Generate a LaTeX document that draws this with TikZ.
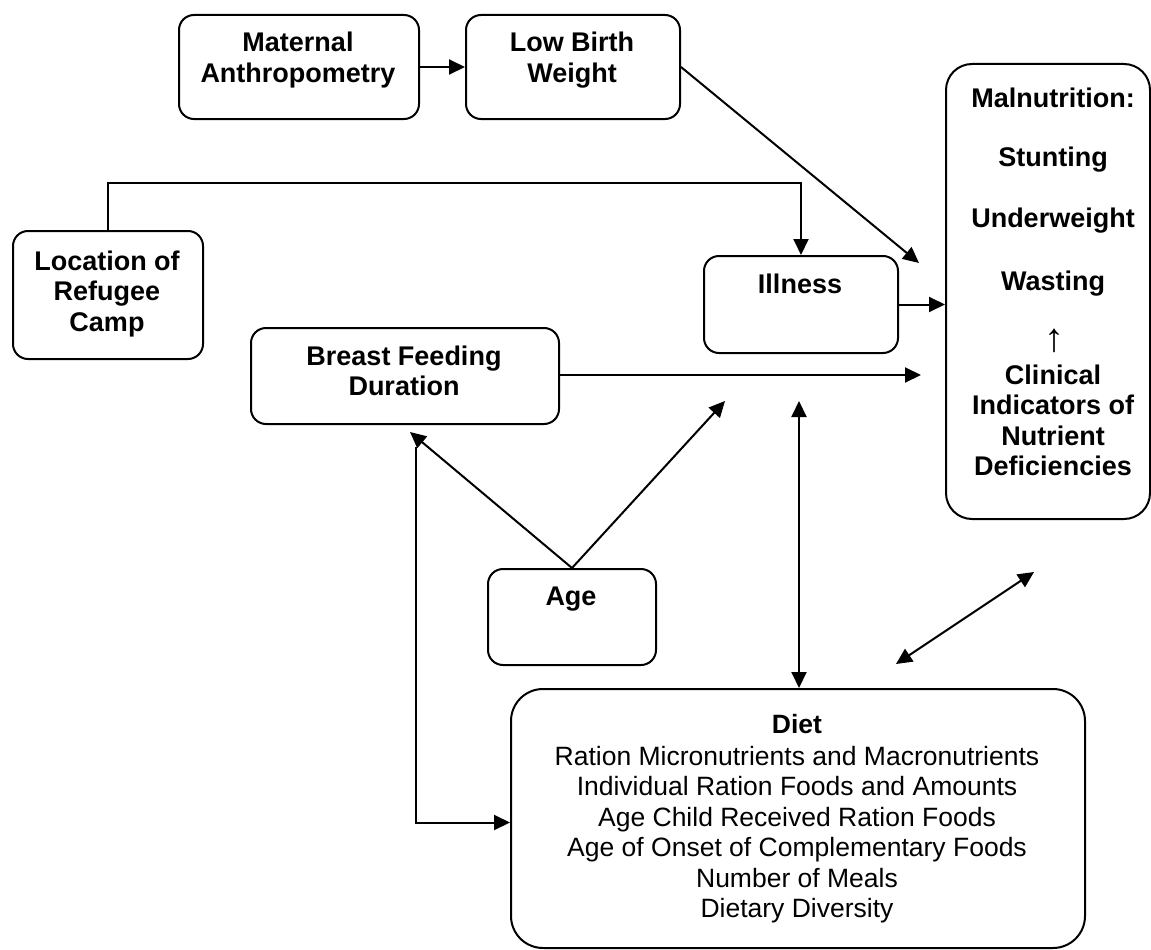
\documentclass[tikz,border=0pt]{standalone}
\usepackage{fontspec}
\setmainfont{Liberation Sans}
\usetikzlibrary{arrows.meta}
\begin{document}
\begin{tikzpicture}[x=1pt,y=-1pt,
  box/.style={draw, line width=2pt, rounded corners=15pt, inner sep=0pt, anchor=north west},
  lbl/.style={font=\bfseries\fontsize{27}{30}\selectfont, inner sep=0pt, anchor=base},
  reg/.style={font=\fontsize{26.5}{31}\selectfont, inner sep=0pt, anchor=base},
  tipa/.tip={Triangle[length=16pt,width=15pt]},
  con/.style={line width=2pt, -tipa},
  dcon/.style={line width=2pt, tipa-tipa}]
\useasboundingbox (0,0) rectangle (1151,950);

% boxes
\node[box, minimum width=240pt, minimum height=104pt] (mat) at (178,14) {};
\node[box, minimum width=214pt, minimum height=104pt] (lbw) at (465,14) {};
\node[box, minimum width=190pt, minimum height=128pt] (loc) at (12,230) {};
\node[box, minimum width=308pt, minimum height=96pt] (bf) at (250,327) {};
\node[box, minimum width=194pt, minimum height=97pt] (ill) at (703,255) {};
\node[box, minimum width=168pt, minimum height=96pt] (age) at (487,568) {};
\node[box, rounded corners=32pt, minimum width=574pt, minimum height=259pt] (diet) at (510,688) {};
\node[box, rounded corners=26pt, minimum width=204pt, minimum height=455pt] (mal) at (945,63) {};

% texts
\node[lbl] (matA) at (298,52) {Maternal};
\node[lbl] (matB) at (298,82) {Anthropometry};
\node[lbl] (lbwA) at (572,52) {Low Birth};
\node[lbl] (lbwB) at (572,82) {Weight};
\node[lbl] (locA) at (107,270) {Location of};
\node[lbl] (locB) at (107,300) {Refugee};
\node[lbl] (locC) at (107,331) {Camp};
\node[lbl] (bfA) at (404,365) {Breast Feeding};
\node[lbl] (bfB) at (404,395) {Duration};
\node[lbl] (illA) at (800,293) {Illness};
\node[lbl] (ageA) at (571,605) {Age};

\node[lbl] (malA) at (1053,107) {Malnutrition:};
\node[lbl] (malB) at (1053,166) {Stunting};
\node[lbl] (malC) at (1053,227) {Underweight};
\node[lbl] (malD) at (1053,290) {Wasting};
\node[font=\fontsize{40}{40}\selectfont, inner sep=0pt, anchor=center] (malE) at (1054,341) {↑};
\node[lbl] (malF) at (1053,384) {Clinical};
\node[lbl] (malG) at (1053,414) {Indicators of};
\node[lbl] (malH) at (1053,445) {Nutrient};
\node[lbl] (malI) at (1053,475) {Deficiencies};

\node[lbl, font=\bfseries\fontsize{26.5}{31}\selectfont] (dietA) at (797,733) {Diet};
\node[reg] (dietB) at (797,765) {Ration Micronutrients and Macronutrients};
\node[reg] (dietC) at (797,795) {Individual Ration Foods and Amounts};
\node[reg] (dietD) at (797,826) {Age Child Received Ration Foods};
\node[reg] (dietE) at (797,856) {Age of Onset of Complementary Foods};
\node[reg] (dietF) at (797,887) {Number of Meals};
\node[reg] (dietG) at (797,917) {Dietary Diversity};

% free ends
\coordinate (lbwEnd) at (919,263);
\coordinate (topRun) at (450,183);
\coordinate (bfEnd) at (921,375);
\coordinate (ageL) at (410,432);
\coordinate (ageR) at (725,401);
\coordinate (bfDown) at (416,447);
\coordinate (dietUp) at (799,401);
\coordinate (dgA) at (896,664);
\coordinate (dgB) at (1034,572);

% connectors
\draw[con] (mat.east) -- (lbw.west);
\draw[con] (lbw.east) -- (lbwEnd);
\draw[con] (loc.north) |- (topRun) -| (ill.north);
\draw[con] (ill.east) -- (mal.west |- ill.east);
\draw[con] (bf.east |- bfEnd) -- (bfEnd);
\draw[con] (age.north) -- (ageL);
\draw[con] (age.north) -- (ageR);
\draw[con] (bfDown) |- ([yshift=-4pt]diet.west);
\draw[dcon] (dietUp) -- (dietUp |- diet.north);
\draw[dcon] (dgA) -- (dgB);
\end{tikzpicture}
\end{document}
